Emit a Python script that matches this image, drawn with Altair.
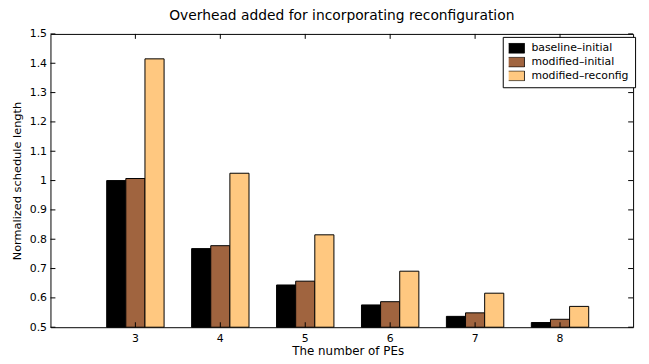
import altair as alt
import pandas as pd

pes = [3, 4, 5, 6, 7, 8]
series_names = ["baseline\u2013initial", "modified\u2013initial", "modified\u2013reconfig"]
baseline_initial = [1.0, 0.768, 0.644, 0.576, 0.537, 0.516]
modified_initial = [1.007, 0.778, 0.657, 0.587, 0.549, 0.527]
modified_reconfig = [1.415, 1.025, 0.815, 0.691, 0.616, 0.571]
colors = ["#000000", "#A0643F", "#FFC880"]
y_ticks = [0.5, 0.6, 0.7, 0.8, 0.9, 1.0, 1.1, 1.2, 1.3, 1.4, 1.5]

rows = []
for i, pe in enumerate(pes):
    for name, vals in zip(series_names, [baseline_initial, modified_initial, modified_reconfig]):
        rows.append({"pe": pe, "series": name, "value": vals[i]})
df = pd.DataFrame(rows)
df_yt = pd.DataFrame({"v": y_ticks})
df_xt = pd.DataFrame({"pe": pes})

W, H = 590, 297
FONT = "DejaVu Sans"

xscale = alt.Scale(domain=pes, range=[0, 602], paddingInner=0, paddingOuter=0.5)
yscale = alt.Scale(domain=[0.5, 1.5], zero=False, nice=False)

xaxis = alt.Axis(title="The number of PEs", labelAngle=0, ticks=False, domain=False,
                 labelPadding=5, titlePadding=3, labelFontSize=11, titleFontSize=12)
yaxis = alt.Axis(title="Normalized schedule length", values=y_ticks,
                 labelExpr="format(datum.value, '.1~f')", ticks=False, domain=False,
                 grid=False, labelPadding=4, titlePadding=7, labelOverlap=False,
                 labelFontSize=11, titleFontSize=11.5)

bars = alt.Chart(df).mark_bar(stroke="black", strokeWidth=1).encode(
    x=alt.X("pe:O", scale=xscale, sort=pes, axis=xaxis),
    xOffset=alt.XOffset("series:N", sort=series_names,
                        scale=alt.Scale(paddingInner=0, paddingOuter=0.72)),
    y=alt.Y("value:Q", scale=yscale, axis=yaxis),
    y2=alt.datum(0.5),
    color=alt.Color("series:N", sort=series_names,
                    scale=alt.Scale(domain=series_names, range=colors),
                    legend=alt.Legend(title=None, orient="none", legendX=458, legendY=3,
                                      symbolType="M-2.1,-1H2.1V1H-2.1Z", symbolSize=100,
                                      symbolStrokeColor="black", symbolStrokeWidth=0.8,
                                      labelFontSize=11, rowPadding=2, padding=6,
                                      clipHeight=11,
                                      strokeColor="black", fillColor="white",
                                      labelFont=FONT, labelOffset=12)),
)

lt = alt.Chart(df_yt).mark_rule(color="black", strokeWidth=1).encode(
    y=alt.Y("v:Q", scale=yscale, axis=yaxis), x=alt.value(0), x2=alt.value(5))
rt = alt.Chart(df_yt).mark_rule(color="black", strokeWidth=1).encode(
    y=alt.Y("v:Q", scale=yscale, axis=yaxis), x=alt.value(W - 5), x2=alt.value(W))
bt = alt.Chart(df_xt).mark_rule(color="black", strokeWidth=1).encode(
    x=alt.X("pe:O", scale=xscale, sort=pes, axis=xaxis), y=alt.value(H), y2=alt.value(H - 5))
tt = alt.Chart(df_xt).mark_rule(color="black", strokeWidth=1).encode(
    x=alt.X("pe:O", scale=xscale, sort=pes, axis=xaxis), y=alt.value(0), y2=alt.value(5))

chart = alt.layer(bars, lt, rt, bt, tt).properties(
    width=W, height=H,
    title=alt.TitleParams("Overhead added for incorporating reconfiguration",
                          fontSize=14, fontWeight="normal", font=FONT, offset=5),
    autosize=alt.AutoSizeParams(type="none"),
    padding={"left": 43, "top": 24, "right": 8, "bottom": 35},
).configure_view(stroke="black", strokeWidth=1).configure_axis(
    labelFont=FONT, titleFont=FONT, labelColor="black", titleColor="black",
    titleFontWeight="normal"
).configure_legend(labelColor="black")

chart.save("out.html", embed_options={"renderer": "svg", "actions": False})
